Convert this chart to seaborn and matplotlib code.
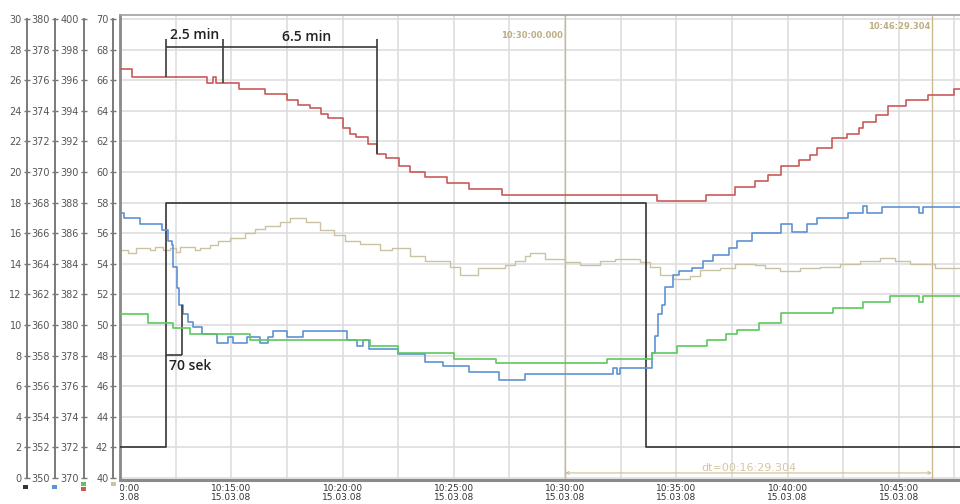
import numpy as np
import pandas as pd
import matplotlib
matplotlib.use("Agg")
import matplotlib.pyplot as plt
import matplotlib.dates as mdates
from matplotlib.transforms import Bbox, TransformedBbox
from matplotlib.patches import Rectangle
import seaborn as sns

DAY = "2008-03-15 "
START = "10:10:00"
END = "10:47:45"

# control signal (scale 0..30)
signal_times = ["10:10:00", "10:12:04", "10:33:38"]
signal_values = [2, 18, 2]

# red trace (scale 370..400)
red_times = ["10:10:00", "10:10:32", "10:13:54", "10:14:11", "10:14:18", "10:15:21", "10:16:31",
             "10:17:30", "10:18:00", "10:18:32", "10:19:02", "10:19:21", "10:20:01", "10:20:20",
             "10:20:36", "10:21:09", "10:21:33", "10:21:57", "10:22:31", "10:23:03", "10:23:42",
             "10:24:42", "10:25:42", "10:27:11", "10:34:09", "10:36:19", "10:37:38", "10:38:31",
             "10:39:08", "10:39:41", "10:40:30", "10:41:00", "10:41:20", "10:42:00", "10:42:40",
             "10:43:13", "10:43:23", "10:43:59", "10:44:31", "10:45:19", "10:46:19", "10:47:30"]
red_values = [396.7, 396.2, 395.8, 396.2, 395.8, 395.4, 395.1, 394.7, 394.4, 394.2, 393.8, 393.5,
              392.9, 392.5, 392.3, 391.8, 391.2, 390.9, 390.4, 390.0, 389.7, 389.3, 388.9, 388.5,
              388.1, 388.5, 389.0, 389.4, 389.8, 390.4, 390.8, 391.1, 391.6, 392.2, 392.5, 392.9,
              393.3, 393.7, 394.3, 394.7, 395.0, 395.4]

# blue trace (scale 350..380)
blue_times = ["10:10:00", "10:10:11", "10:10:54", "10:11:52", "10:12:09", "10:12:19", "10:12:23",
              "10:12:33", "10:12:39", "10:12:51", "10:13:03", "10:13:17", "10:13:40", "10:14:21",
              "10:14:52", "10:15:04", "10:15:43", "10:16:18", "10:16:40", "10:16:52", "10:17:31",
              "10:18:13", "10:20:13", "10:20:40", "10:20:54", "10:21:12", "10:22:30", "10:23:42",
              "10:24:32", "10:25:42", "10:27:03", "10:28:12", "10:32:10", "10:32:19", "10:32:28",
              "10:33:54", "10:34:03", "10:34:12", "10:34:21", "10:34:30", "10:34:52", "10:35:06",
              "10:35:42", "10:36:13", "10:36:40", "10:37:23", "10:37:43", "10:38:23", "10:39:42",
              "10:40:11", "10:40:52", "10:41:20", "10:42:44", "10:43:23", "10:43:34", "10:44:14",
              "10:45:55", "10:46:05"]
blue_values = [367.3, 367.0, 366.6, 366.2, 365.5, 365.2, 363.8, 362.4, 361.3, 360.7, 360.2, 359.9,
               359.4, 358.8, 359.2, 358.8, 359.2, 358.8, 359.2, 359.6, 359.2, 359.6, 359.0, 358.6,
               359.0, 358.4, 358.1, 357.6, 357.3, 356.9, 356.4, 356.8, 357.2, 356.8, 357.2, 358.2,
               359.3, 360.7, 361.3, 362.5, 363.3, 363.5, 363.7, 364.2, 364.6, 365.0, 365.5, 366.0,
               366.6, 366.1, 366.6, 367.0, 367.3, 367.8, 367.3, 367.7, 367.3, 367.7]

# green trace (scale 370..400)
green_times = ["10:10:00", "10:11:16", "10:12:22", "10:13:09", "10:15:51", "10:21:14", "10:22:30",
               "10:25:01", "10:26:54", "10:31:52", "10:33:54", "10:35:01", "10:36:22", "10:37:14",
               "10:37:43", "10:38:43", "10:39:43", "10:42:03", "10:43:23", "10:44:35", "10:45:55",
               "10:46:05"]
green_values = [380.7, 380.1, 379.8, 379.4, 379.0, 378.6, 378.2, 377.8, 377.5, 377.8, 378.2, 378.6,
                379.0, 379.4, 379.7, 380.1, 380.8, 381.1, 381.5, 381.9, 381.5, 381.9]

# tan trace (scale 40..70)
tan_times = ["10:10:00", "10:10:22", "10:10:43", "10:11:21", "10:11:34", "10:11:56", "10:12:15",
             "10:12:31", "10:12:42", "10:13:22", "10:13:36", "10:14:03", "10:14:24", "10:14:57",
             "10:15:37", "10:16:04", "10:16:31", "10:17:11", "10:17:38", "10:18:22", "10:18:59",
             "10:19:37", "10:20:07", "10:20:47", "10:21:41", "10:22:13", "10:23:02", "10:23:42",
             "10:24:50", "10:25:17", "10:26:05", "10:27:18", "10:27:45", "10:28:12", "10:28:26",
             "10:29:06", "10:30:00", "10:30:40", "10:31:34", "10:32:15", "10:33:22", "10:33:49",
             "10:34:16", "10:34:51", "10:35:37", "10:36:04", "10:36:58", "10:37:38", "10:38:32",
             "10:38:59", "10:39:40", "10:40:34", "10:41:28", "10:42:22", "10:43:15", "10:44:09",
             "10:44:50", "10:45:30", "10:46:38"]
tan_values = [54.9, 54.7, 55.0, 54.9, 55.1, 54.9, 55.0, 54.8, 55.1, 54.9, 55.0, 55.2, 55.5, 55.7,
              56.0, 56.3, 56.5, 56.7, 57.0, 56.7, 56.2, 55.9, 55.5, 55.3, 54.9, 55.0, 54.5, 54.2,
              53.8, 53.3, 53.7, 53.9, 54.2, 54.5, 54.7, 54.3, 54.1, 53.9, 54.2, 54.3, 54.1, 53.8,
              53.3, 53.0, 53.2, 53.6, 53.7, 54.0, 53.9, 53.7, 53.5, 53.7, 53.8, 54.0, 54.2, 54.4,
              54.2, 54.0, 53.7]

# axis scales: lower bound of each left axis (each spans 30 units)
scale_lows = [0, 350, 370, 40]
scale_spine_pos = [-0.1111, -0.0774, -0.0429, -0.0080]

# cursors and annotations
cursor_times = ["10:30:00.000", "10:46:29.304"]
cursor_labels = ["10:30:00.000", "10:46:29.304"]
dt_label = "dt=00:16:29.304"
bracket_times = ["10:12:04", "10:14:38", "10:21:33"]
bracket_label_times = ["10:13:22", "10:18:22"]
bracket_labels = ["2.5 min", "6.5 min"]
sek_times = ["10:12:04", "10:12:47"]
sek_label = "70 sek"

RED, BLUE, GREEN, TAN, BLACK = "#c85a5a", "#5e92d2", "#5cc85c", "#cbc2a3", "#333333"
CURSOR = "#c9bb8f"


def ts(s):
    return pd.Timestamp(DAY + s)


def series(times, values):
    t = [ts(s) for s in times] + [ts(END)]
    v = list(values) + [values[-1]]
    return pd.DataFrame({"time": t, "value": v})


def step_at(times, values, when):
    idx = max(i for i, s in enumerate(times) if ts(s) <= ts(when))
    return values[idx]


PAD_LO, PAD_HI = 0.131, 0.261

fig = plt.figure(figsize=(9.6, 5.04), dpi=100)
ax = fig.add_axes([0.125, 24 / 504, 0.875, 465 / 504])

axes_by_low = {}
for lo, pos in zip(scale_lows, scale_spine_pos):
    tw = ax.twinx()
    tw.set_ylim(lo - PAD_LO, lo + 30 + PAD_HI)
    tw.yaxis.set_ticks_position("left")
    tw.yaxis.set_label_position("left")
    for s in ("right", "top", "bottom"):
        tw.spines[s].set_visible(False)
    sp = tw.spines["left"]
    sp.set_visible(True)
    sp.set_position(("axes", pos))
    sp.set_bounds(lo, lo + 30)
    sp.set_color("#7a7a7a")
    sp.set_linewidth(1.4)
    tw.set_yticks(np.arange(lo, lo + 31, 2))
    tw.tick_params(axis="y", direction="inout", length=5, width=1, color="#777",
                   labelsize=7, labelcolor="#555", pad=1)
    axes_by_low[lo] = tw

ax_sig, ax_blue, ax_grn = axes_by_low[0], axes_by_low[350], axes_by_low[370]

# traces
sns.lineplot(data=series(tan_times, tan_values), x="time", y="value", ax=ax, color=TAN,
             lw=1.0, drawstyle="steps-post", estimator=None, legend=False)
sns.lineplot(data=series(green_times, green_values), x="time", y="value", ax=ax_grn,
             color=GREEN, lw=1.2, drawstyle="steps-post", estimator=None, legend=False)
sns.lineplot(data=series(red_times, red_values), x="time", y="value", ax=ax_grn,
             color=RED, lw=1.2, drawstyle="steps-post", estimator=None, legend=False)
sns.lineplot(data=series(blue_times, blue_values), x="time", y="value", ax=ax_blue,
             color=BLUE, lw=1.2, drawstyle="steps-post", estimator=None, legend=False)
sns.lineplot(data=series(signal_times, signal_values), x="time", y="value", ax=ax_sig,
             color=BLACK, lw=1.2, drawstyle="steps-post", estimator=None, legend=False)

for a in [ax] + list(axes_by_low.values()):
    a.set_xlabel("")
    a.set_ylabel("")

ax.set_ylim(40 - PAD_LO, 70 + PAD_HI)
ax.set_xlim(ts(START), ts(END))

# grid and frame
ax.set_yticks(np.arange(40, 71, 2))
ax.tick_params(axis="y", left=False, labelleft=False, right=False, labelright=False)
major = [ts(START) + pd.Timedelta(minutes=5 * i) for i in range(8)]
minor = [ts(START) + pd.Timedelta(seconds=150 + 300 * i) for i in range(8)]
ax.xaxis.set_major_locator(matplotlib.ticker.FixedLocator(mdates.date2num(major)))
ax.xaxis.set_minor_locator(matplotlib.ticker.FixedLocator(mdates.date2num(minor)))
ax.xaxis.set_major_formatter(mdates.DateFormatter("%H:%M:%S\n%d.%m.%y"))
ax.grid(True, which="major", axis="both", color="#dedede", lw=1.2)
ax.grid(True, which="minor", axis="x", color="#dedede", lw=1.2)
ax.set_axisbelow(True)
ax.tick_params(axis="x", which="both", length=0, pad=3, labelsize=6.5, labelcolor="#333")
for lbl in ax.get_xticklabels():
    lbl.set_linespacing(0.95)
first = ax.get_xticklabels()[0]
first.set_clip_on(True)
first.set_clip_box(TransformedBbox(Bbox([[0.125, 0.0], [1.0, 1.0]]), fig.transFigure))

for s, c, w in (("left", "#8a8a8a", 2.0), ("top", "#a0a0a0", 1.2), ("bottom", "#8a8a8a", 2.2)):
    ax.spines[s].set_color(c)
    ax.spines[s].set_linewidth(w)
ax.spines["right"].set_visible(False)

# measurement cursors
for t, lab, yv in zip(cursor_times, cursor_labels, [68.95, 69.54]):
    ax.axvline(ts(t), color=CURSOR, lw=1.0, zorder=1)
    ax.annotate(lab, xy=(ts(t), yv), xytext=(-2, 0), textcoords="offset pixels",
                ha="right", va="center", fontsize=6, fontweight="bold", color="#bcae82")
ax.annotate("", xy=(ts(cursor_times[1]), 40.33), xytext=(ts(cursor_times[0]), 40.33),
            arrowprops=dict(arrowstyle="<->", color="#cbbf95", lw=0.8,
                            shrinkA=0, shrinkB=0, mutation_scale=5))
mid = ts(cursor_times[0]) + (ts(cursor_times[1]) - ts(cursor_times[0])) / 2
ax.text(mid, 40.45, dt_label, ha="center", va="baseline", fontsize=8, color="#d3c8a2")

# duration brackets above the red trace (red scale = main scale + 330)
ANN = dict(color="#3a3a3a", lw=1.2, solid_capstyle="butt")
bt = [ts(t) for t in bracket_times]
ax_grn.plot([bt[0], bt[2]], [398.17, 398.17], **ANN)
for t in bracket_times:
    ax_grn.plot([ts(t), ts(t)], [398.66, step_at(red_times, red_values, t)], **ANN)
for t, lab, yv in zip(bracket_label_times, bracket_labels, [68.72, 68.58]):
    ax.text(ts(t), yv, lab, ha="center", va="baseline", fontsize=10,
            fontweight="semibold", family=["Open Sans", "DejaVu Sans"], color="#222")

# response-time marker below the blue drop
st = [ts(t) for t in sek_times]
ax_blue.plot([st[0], st[1]], [358.06, 358.06], **ANN)
ax_blue.plot([st[1], st[1]], [358.06, step_at(blue_times, blue_values, sek_times[1])], **ANN)
ax.text(ts("10:12:13"), 47.3, sek_label, ha="left", va="center", fontsize=10,
        fontweight="semibold", family=["Open Sans", "DejaVu Sans"], color="#222")

# series colour keys under the scales
for cx, cy, col in ((25, 487, BLACK), (54, 487, BLUE), (83, 483.5, GREEN), (83, 489, RED),
                    (113, 484, TAN)):
    fig.add_artist(Rectangle(((cx - 2.5) / 960, (504 - cy - 2) / 504), 5 / 960, 4 / 504,
                             transform=fig.transFigure, color=col, lw=0))

fig.savefig("out.png", dpi=100)
